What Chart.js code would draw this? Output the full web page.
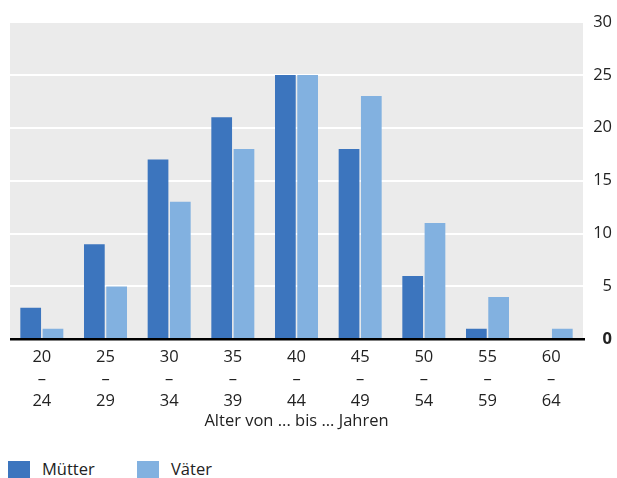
<!DOCTYPE html>
<html>
<head>
<meta charset="utf-8">
<script src="https://cdn.jsdelivr.net/npm/chart.js@4.4.1/dist/chart.umd.min.js"></script>
<style>
  html, body { margin: 0; padding: 0; background: #fff; }
  #wrap { position: relative; width: 617px; height: 478px; }
  #chart { position: absolute; left: 0; top: 0; }
  #legend { position: absolute; left: 8px; top: 457px; font-family: "Open Sans", sans-serif; font-size: 16.5px; color: #222; }
  .item { position: absolute; top: 0; white-space: nowrap; }
  .box { display: inline-block; width: 22px; height: 17px; vertical-align: -3px; margin-right: 12px; }
</style>
</head>
<body>
<div id="wrap">
  <canvas id="chart" width="617" height="431"></canvas>
  <div id="legend"></div>
</div>
<script>
(function () {
    "use strict";

    var categories = [
        ["20", "–", "24"], ["25", "–", "29"], ["30", "–", "34"],
        ["35", "–", "39"], ["40", "–", "44"], ["45", "–", "49"],
        ["50", "–", "54"], ["55", "–", "59"], ["60", "–", "64"]
    ];
    var muetter = [3, 9, 17, 21, 25, 18, 6, 1, 0];
    var vaeter = [1, 5, 13, 18, 25, 23, 11, 4, 1];
    var seriesNames = ["Mütter", "Väter"];
    var axisTitle = "Alter von ... bis ... Jahren";

    var DARK = "#3c75be";
    var LIGHT = "#82b1e0";
    var TEXT = "#222222";
    var FONT = "'Open Sans', sans-serif";
    var SIZE = 16.5;

    var plotBackground = {
        id: "plotBackground",
        beforeDraw: function (chart) {
            var a = chart.chartArea;
            var ctx = chart.ctx;
            ctx.save();
            ctx.fillStyle = "#ebebeb";
            ctx.fillRect(a.left, a.top, a.right - a.left, a.bottom - a.top);
            ctx.restore();
        },
        afterDatasetsDraw: function (chart) {
            var a = chart.chartArea;
            var y = chart.scales.y.getPixelForValue(0);
            var ctx = chart.ctx;
            ctx.save();
            ctx.strokeStyle = "#000";
            ctx.lineWidth = 2.5;
            ctx.beginPath();
            ctx.moveTo(a.left, y);
            ctx.lineTo(a.right + 2, y);
            ctx.stroke();
            ctx.restore();
        }
    };

    new Chart(document.getElementById("chart"), {
        type: "bar",
        data: {
            labels: categories,
            datasets: [
                { label: seriesNames[0], data: muetter, backgroundColor: DARK },
                { label: seriesNames[1], data: vaeter, backgroundColor: LIGHT }
            ]
        },
        options: {
            responsive: false,
            animation: false,
            categoryPercentage: 0.7,
            barPercentage: 0.93,
            layout: { padding: { left: 10, top: 22, right: 5, bottom: 0 } },
            plugins: {
                legend: { display: false },
                tooltip: { enabled: false }
            },
            scales: {
                x: {
                    grid: { display: false },
                    border: { display: false },
                    ticks: {
                        color: TEXT,
                        font: { family: FONT, size: SIZE, lineHeight: 1.33 },
                        padding: -1,
                        maxRotation: 0
                    },
                    title: {
                        display: true,
                        text: axisTitle,
                        color: TEXT,
                        font: { family: FONT, size: SIZE, lineHeight: 1.2 },
                        padding: { top: 0, bottom: 0 }
                    }
                },
                y: {
                    position: "right",
                    min: 0,
                    max: 30,
                    afterFit: function (scale) { scale.width = 29; },
                    grid: { color: "#ffffff", lineWidth: 2, drawTicks: false },
                    border: { display: false },
                    ticks: {
                        stepSize: 5,
                        color: TEXT,
                        crossAlign: "far",
                        padding: 4,
                        font: function (ctx) {
                            return {
                                family: FONT,
                                size: SIZE,
                                weight: ctx.tick && ctx.tick.value === 0 ? "bold" : "normal"
                            };
                        }
                    }
                }
            }
        },
        plugins: [plotBackground]
    });

    var legend = document.getElementById("legend");
    var colors = [DARK, LIGHT];
    var lefts = [0, 129];
    seriesNames.forEach(function (name, i) {
        var item = document.createElement("span");
        item.className = "item";
        item.style.left = lefts[i] + "px";
        var box = document.createElement("span");
        box.className = "box";
        box.style.background = colors[i];
        item.appendChild(box);
        item.appendChild(document.createTextNode(name));
        legend.appendChild(item);
    });
})();
</script>
</body>
</html>
